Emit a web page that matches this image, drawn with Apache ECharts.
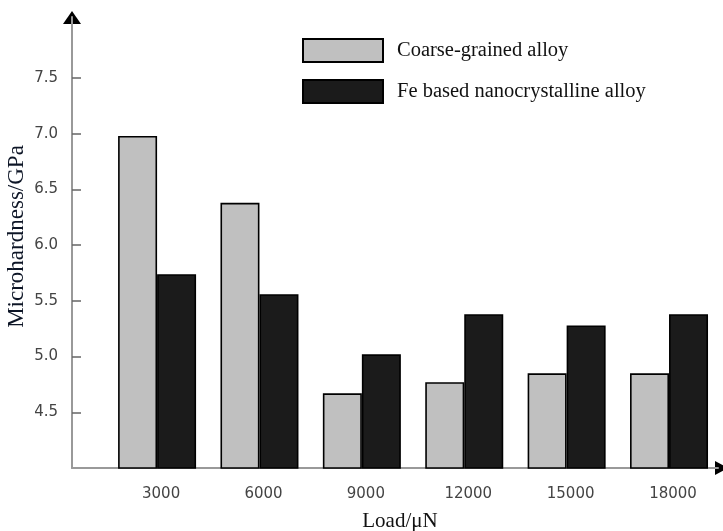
<!DOCTYPE html>
<html>
<head>
<meta charset="utf-8">
<script src="https://cdn.jsdelivr.net/npm/echarts@6/dist/echarts.min.js"></script>
<style>
  html, body { margin: 0; padding: 0; background: #fff; }
  #chart { width: 723px; height: 531px; }
</style>
</head>
<body>
<div id="chart"></div>
<script>
// load values (uN) and microhardness (GPa)
const loads = [3000, 6000, 9000, 12000, 15000, 18000]
const coarse = [6.98, 6.38, 4.67, 4.77, 4.85, 4.85]
const nano = [5.74, 5.56, 5.02, 5.38, 5.28, 5.38]
const yTicks = [4.5, 5.0, 5.5, 6.0, 6.5, 7.0, 7.5]
const seriesNames = ['Coarse-grained alloy', 'Fe based nanocrystalline alloy']

const X_MIN = 507, X_MAX = 19435
const Y_MIN = 4, Y_MAX = 8.048

const chart = echarts.init(document.getElementById('chart'))

const barStyle = (color)=>({
  color: color,
  borderColor: '#000',
  borderWidth: 1.6
})

chart.setOption({
  animation: false,
  grid: { left: 72, right: 5, top: 17, bottom: 63, outerBoundsMode: 'none', containLabel: false },
  legend: {
    orient: 'vertical',
    left: 297,
    top: 33,
    itemWidth: 80,
    itemHeight: 23,
    itemGap: 16,
    icon: 'rect',
    textStyle: { fontFamily: 'Liberation Serif', fontSize: 20.5, color: '#111', padding: [0, 0, 0, 9] },
    data: seriesNames
  },
  xAxis: {
    type: 'value',
    min: X_MIN,
    max: X_MAX,
    name: 'Load/μN',
    nameLocation: 'middle',
    nameGap: 43,
    nameMoveOverlap: false,
    nameTextStyle: { fontFamily: 'Liberation Serif', fontSize: 21, color: '#111', padding: [0, 0, 0, 10] },
    splitLine: { show: false },
    axisLine: { lineStyle: { color: '#999', width: 2 } },
    axisTick: { show: false },
    axisLabel: {
      customValues: loads,
      margin: 19,
      fontFamily: 'DejaVu Sans',
      fontSize: 15,
      color: '#444',
      padding: [0, 0, 0, 8],
      formatter: v=>String(v)
    }
  },
  yAxis: {
    type: 'value',
    min: Y_MIN,
    max: Y_MAX,
    name: 'Microhardness/GPa',
    nameLocation: 'middle',
    nameGap: 44,
    nameMoveOverlap: false,
    nameTextStyle: { fontFamily: 'Liberation Serif', fontSize: 23, color: '#0d1526', padding: [0, 0, 0, 12] },
    splitLine: { show: false },
    axisLine: { show: true, lineStyle: { color: '#999', width: 2 } },
    axisTick: { show: true, inside: true, length: 9, customValues: yTicks, lineStyle: { color: '#666', width: 1.5 } },
    axisLabel: {
      customValues: yTicks,
      margin: 14,
      fontFamily: 'DejaVu Sans',
      fontSize: 15,
      color: '#444',
      formatter: v=>v.toFixed(1)
    }
  },
  series: [
    {
      name: seriesNames[0],
      type: 'bar',
      barWidth: 39,
      barGap: '0%',
      itemStyle: barStyle('#c0c0c0'),
      data: loads.map((x, i)=>[x, coarse[i]])
    },
    {
      name: seriesNames[1],
      type: 'bar',
      barWidth: 39,
      barGap: '0%',
      itemStyle: barStyle('#1b1b1b'),
      data: loads.map((x, i)=>[x, nano[i]])
    }
  ]
})

// black arrow heads at the ends of both axes
const yEnd = chart.convertToPixel({ gridIndex: 0 }, [X_MIN, Y_MAX])
const xEnd = chart.convertToPixel({ gridIndex: 0 }, [X_MAX, Y_MIN])
chart.setOption({
  graphic: [
    {
      type: 'polygon',
      shape: { points: [[yEnd[0], yEnd[1] - 6], [yEnd[0] - 9, yEnd[1] + 7], [yEnd[0] + 9, yEnd[1] + 7]] },
      style: { fill: '#000' }
    },
    {
      type: 'polygon',
      shape: { points: [[xEnd[0] + 10, xEnd[1]], [xEnd[0] - 3, xEnd[1] - 7], [xEnd[0] - 3, xEnd[1] + 7]] },
      style: { fill: '#000' }
    }
  ]
})
</script>
</body>
</html>
